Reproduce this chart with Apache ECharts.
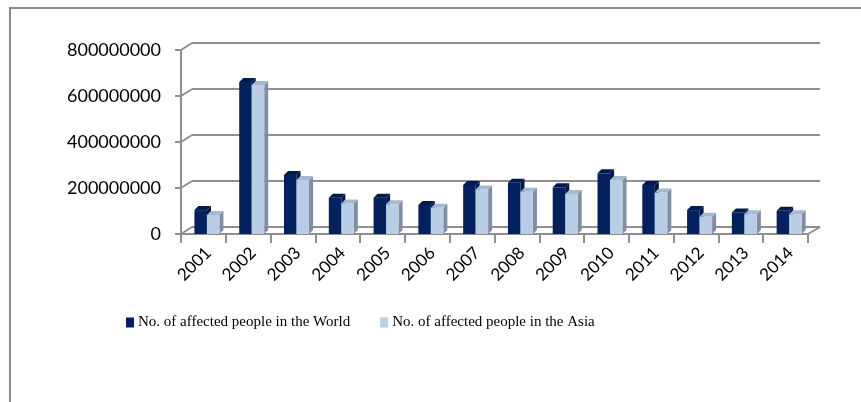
<!DOCTYPE html>
<html>
<head>
<meta charset="utf-8">
<script src="https://cdn.jsdelivr.net/npm/echarts@6/dist/echarts.min.js"></script>
<style>
html,body{margin:0;padding:0;background:#fff;}
#chart{width:861px;height:402px;}
</style>
</head>
<body>
<div id="chart"></div>
<script>
const categories = ['2001','2002','2003','2004','2005','2006','2007','2008','2009','2010','2011','2012','2013','2014'];
const worldValues = [104e6, 661e6, 257e6, 158e6, 158e6, 126e6, 213e6, 223e6, 203e6, 264e6, 213e6, 104e6, 94e6, 101e6];
const asiaValues  = [83e6, 648e6, 235e6, 133e6, 129e6, 114e6, 194e6, 184e6, 174e6, 235e6, 180e6, 75e6, 86e6, 86e6];
const yTicks = [0, 200e6, 400e6, 600e6, 800e6];
const seriesNames = ['No. of affected people in the World', 'No. of affected people in the Asia'];

const DX = 11, DY = -7;      // wall depth offset
const BDX = 4, BDY = -4;     // bar depth offset
const GRID_COLOR = '#8f8f8f';

function barRenderer(startFrac, widthFrac, colors) {
  return function (params, api) {
    const idx = api.value(0);
    const v = api.value(1);
    const top = api.coord([idx, v]);
    const base = api.coord([idx, 0]);
    const band = api.size([1, 0])[0];
    const x0 = top[0] + startFrac * band;
    const w = widthFrac * band;
    const ty = top[1], by = base[1];
    return {
      type: 'group',
      children: [
        { type: 'polygon', shape: { points: [[x0 + w, ty], [x0 + w + BDX, ty + BDY], [x0 + w + BDX, by + BDY], [x0 + w, by]] }, style: { fill: colors.side } },
        { type: 'polygon', shape: { points: [[x0, ty], [x0 + w, ty], [x0 + w + BDX, ty + BDY], [x0 + BDX, ty + BDY]] }, style: { fill: colors.top } },
        { type: 'rect', shape: { x: x0, y: ty, width: w, height: by - ty }, style: { fill: colors.front } }
      ]
    };
  };
}

function frameRenderer(params, api) {
  const cs = params.coordSys;
  const v = api.value(1);
  const p = api.coord([0, v]);
  const y = p[1];
  const x = cs.x;
  const children = [
    { type: 'line', shape: { x1: x, y1: y, x2: x + DX, y2: y + DY }, style: { stroke: GRID_COLOR, lineWidth: 2 } },
    { type: 'line', shape: { x1: x + DX, y1: y + DY, x2: x + cs.width + DX + 1, y2: y + DY }, style: { stroke: GRID_COLOR, lineWidth: 2 } }
  ];
  if (v === 0) {
    children.push({ type: 'line', shape: { x1: x + cs.width, y1: y, x2: x + cs.width + DX + 1, y2: y + DY }, style: { stroke: GRID_COLOR, lineWidth: 2 } });
  }
  return { type: 'group', children: children };
}

const chart = echarts.init(document.getElementById('chart'), null, { renderer: 'canvas' });
const option = {
  animation: false,
  backgroundColor: '#fff',
  graphic: [
    { type: 'rect', shape: { x: 10, y: 8, width: 900, height: 450 }, style: { fill: 'none', stroke: '#8a8a8a', lineWidth: 2 }, z: -10 }
  ],
  grid: { left: 181, right: 53, top: 50, bottom: 168, containLabel: false },
  legend: {
    left: 121, top: 310,
    itemWidth: 8, itemHeight: 10, itemGap: 30,
    icon: 'rect',
    textStyle: { fontFamily: 'Liberation Serif', fontSize: 15, color: '#000', padding: [0, 0, 0, -1] },
    data: seriesNames
  },
  xAxis: {
    type: 'category',
    data: categories,
    boundaryGap: true,
    axisLine: { show: true, lineStyle: { color: GRID_COLOR, width: 2 } },
    axisTick: { show: true, alignWithLabel: false, length: 9, lineStyle: { color: GRID_COLOR, width: 2 } },
    axisLabel: { rotate: 45, margin: 21, fontFamily: 'Lato', fontSize: 17, color: '#000', interval: 0, padding: [0, -7, 0, 0] },
    splitLine: { show: false }
  },
  yAxis: {
    type: 'value',
    min: 0, max: 800e6, interval: 200e6,
    axisLine: { show: true, lineStyle: { color: GRID_COLOR, width: 2 } },
    axisTick: { show: true, length: 6, lineStyle: { color: GRID_COLOR, width: 2 } },
    axisLabel: { margin: 20, fontFamily: 'Lato', fontSize: 18, color: '#000', formatter: function (v) { return String(v); } },
    splitLine: { show: false }
  },
  series: [
    {
      name: 'frame', type: 'custom', silent: true, z: 1,
      renderItem: frameRenderer,
      data: yTicks.map(function (v) { return [0, v]; }),
      encode: { x: 0, y: 1 }
    },
    {
      name: seriesNames[0], type: 'custom', z: 3,
      itemStyle: { color: '#002060' },
      renderItem: barRenderer(-0.2, 0.28, { front: '#03205f', top: '#011a4e', side: '#011640' }),
      data: worldValues.map(function (v, i) { return [i, v]; }),
      encode: { x: 0, y: 1 }
    },
    {
      name: seriesNames[1], type: 'custom', z: 4,
      itemStyle: { color: '#b9cde5' },
      renderItem: barRenderer(0.078, 0.28, { front: '#b9cde5', top: '#a5b8d1', side: '#7f8ea3' }),
      data: asiaValues.map(function (v, i) { return [i, v]; }),
      encode: { x: 0, y: 1 }
    }
  ]
};
chart.setOption(option);
</script>
</body>
</html>
